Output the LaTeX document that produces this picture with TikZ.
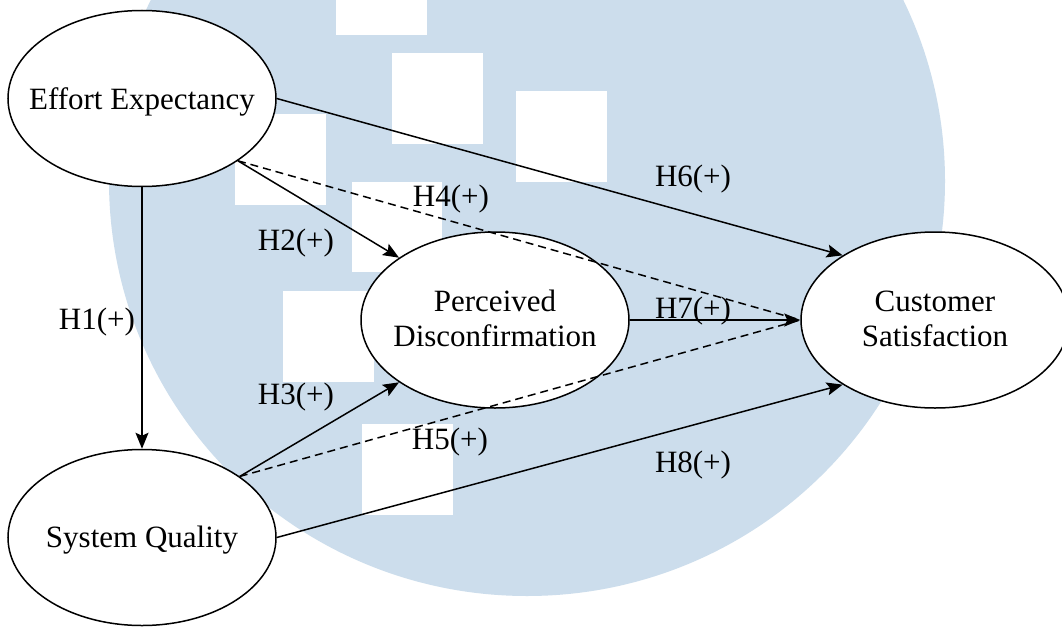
\documentclass[tikz,border=0pt]{standalone}
\usepackage{fontspec}
\setmainfont{Liberation Serif}
\usetikzlibrary{arrows.meta,shapes.geometric}
\definecolor{wmblue}{RGB}{204,221,236}
\begin{document}
\begin{tikzpicture}[x=1pt,y=-1pt,
  var/.style={ellipse,draw,line width=1.5pt,fill=white,minimum width=268pt,minimum height=176pt,inner sep=0pt,font=\fontsize{31}{35}\selectfont},
  hyp/.style={font=\fontsize{31}{35}\selectfont,inner sep=0pt},
  conn/.style={line width=1.5pt,-{Stealth[length=16pt,width=13pt,inset=3pt]}},
  dconn/.style={line width=1.5pt,dash pattern=on 8pt off 5pt},
  wsq/.style={fill=white,draw=none}]
\useasboundingbox (0,0) rectangle (1062,626);
\fill[white] (0,0) rectangle (1062,626);
% watermark
\fill[wmblue] (527,181) ellipse [x radius=418, y radius=415];
\fill[wsq] (336,-60) rectangle (427,35);
\fill[wsq] (392,53) rectangle (483,144);
\fill[wsq] (516,91) rectangle (607,182);
\fill[wsq] (235,114) rectangle (326,205);
\fill[wsq] (352,182) rectangle (442,272);
\fill[wsq] (283,291) rectangle (374,382);
\fill[wsq] (362,424) rectangle (453,515);
% variables
\node[var] (ee) at (142,98.5) {\makebox[0pt]{\raisebox{-3pt}[\height][\depth]{Effort Expectancy}}};
\node[var] (sys) at (142,537.5) {\makebox[0pt]{\raisebox{-3pt}[\height][\depth]{System Quality}}};
\node[var] (pd) at (495,320) {\makebox[0pt]{\raisebox{-2pt}[\height][\depth]{\begin{tabular}{@{}c@{}}Perceived\\Disconfirmation\end{tabular}}}};
\node[var] (cs) at (935,320) {\makebox[0pt]{\raisebox{-2pt}[\height][\depth]{\begin{tabular}{@{}c@{}}Customer\\Satisfaction\end{tabular}}}};
% connectors
\draw[conn] (ee.south) -- (sys.north);
\draw[conn] (ee.-33) -- (pd.147);
\draw[conn] (sys.32) -- (pd.213);
\draw[dconn] (ee.-33) -- (cs.west);
\draw[dconn] (sys.32) -- (cs.west);
\draw[conn] (ee.east) -- (cs.145);
\draw[conn] (pd.east) -- (cs.west);
\draw[conn] (sys.east) -- (cs.215);
% labels
\node[hyp] (h1) at (97,322) {H1(+)};
\node[hyp] (h2) at (296,243) {H2(+)};
\node[hyp] (h3) at (296,397) {H3(+)};
\node[hyp] (h4) at (451,199) {H4(+)};
\node[hyp] (h5) at (450,442) {H5(+)};
\node[hyp] (h6) at (693,179) {H6(+)};
\node[hyp] (h7) at (693,311) {H7(+)};
\node[hyp] (h8) at (693,465) {H8(+)};
\end{tikzpicture}
\end{document}
